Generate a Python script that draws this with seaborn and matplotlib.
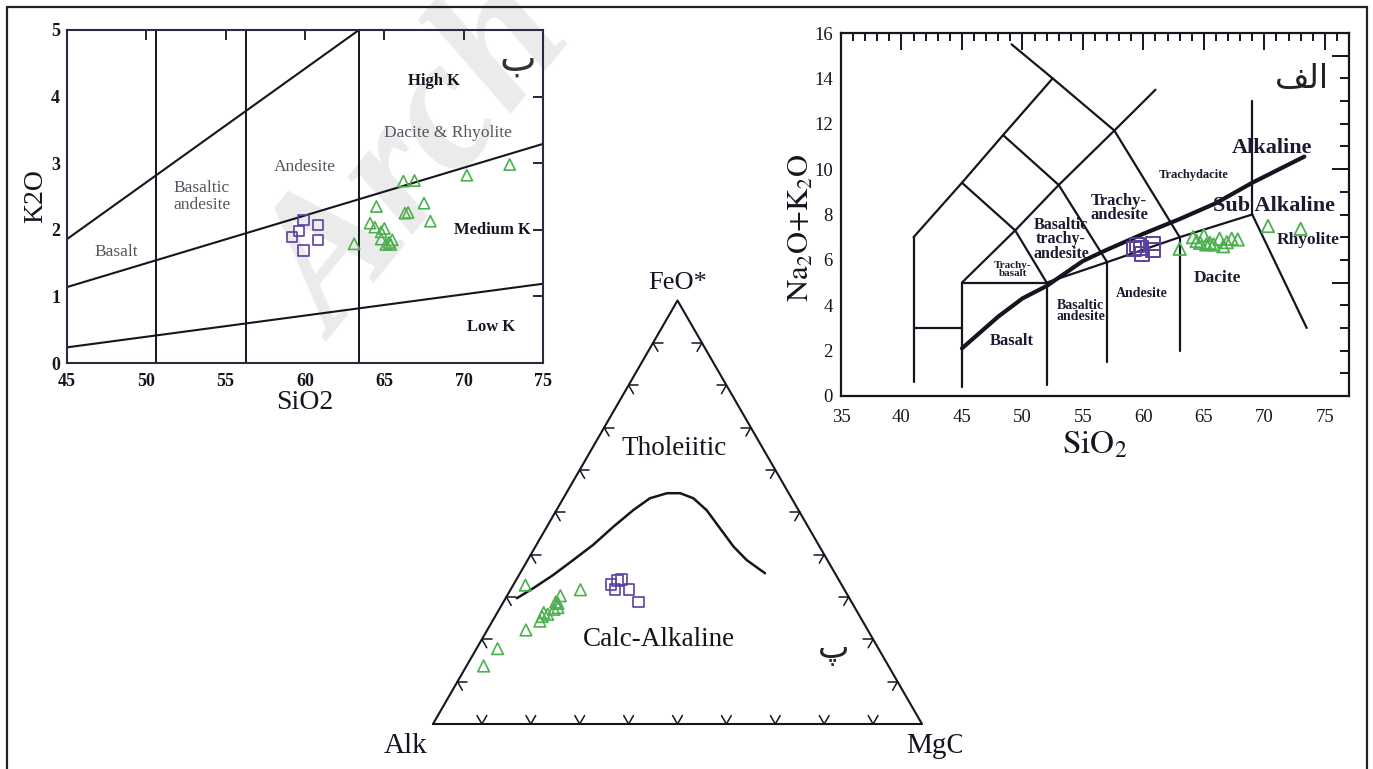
import numpy as np
import matplotlib
matplotlib.use('Agg')
import matplotlib.pyplot as plt
from matplotlib.lines import Line2D
from matplotlib.ticker import MultipleLocator, FixedLocator, FuncFormatter
import seaborn as sns

sns.set_theme(style='white')
plt.rcParams['font.family'] = ['Liberation Serif', 'DejaVu Sans']
plt.rcParams['mathtext.fontset'] = 'stix'

W, H = 1373, 769
SQ_COLOR = '#5b3f9f'
TRI_COLOR = '#4cb04f'
INK = '#151520'
ARABIC = ['DejaVu Sans']

# ---- panel "ب": K2O vs SiO2 ----
k2o_sq_sio2 = [59.2, 59.6, 59.9, 60.8, 60.8, 59.9]
k2o_sq_k2o = [1.89, 1.98, 2.15, 2.07, 1.85, 1.69]
k2o_tri_sio2 = [63.1, 64.5, 64.1, 64.4, 65.0, 64.8, 64.8, 65.1, 65.4, 65.5, 65.3,
                66.2, 66.9, 66.3, 66.5, 67.5, 67.9, 70.2, 72.9]
k2o_tri_k2o = [1.79, 2.35, 2.10, 2.04, 2.02, 1.97, 1.86, 1.78, 1.78, 1.85, 1.81,
               2.73, 2.74, 2.25, 2.26, 2.40, 2.13, 2.82, 2.98]
k2o_div_sio2 = [50.6, 56.3, 63.4]
k2o_bounds = {
    'shoshonite': ([45, 63.4], [1.86, 5.0]),
    'high': ([45, 75], [1.14, 3.29]),
    'low': ([45, 75], [0.235, 1.19]),
}

# ---- panel "الف": TAS ----
tas_sq_sio2 = [59.2, 59.8, 59.9, 60.8, 60.8, 59.5]
tas_sq_alk = [6.46, 6.53, 6.24, 6.72, 6.43, 6.64]
tas_tri_sio2 = [63.0, 64.1, 64.4, 64.7, 65.0, 65.2, 65.5, 65.8, 66.3, 66.6, 66.9,
                67.3, 67.8, 70.3, 73.0]
tas_tri_alk = [6.49, 7.00, 6.83, 6.75, 7.08, 6.68, 6.75, 6.68, 6.93, 6.60, 6.78,
               6.93, 6.90, 7.49, 7.37]
tas_fields = [
    ([41, 41], [0.6, 7.0]),
    ([41, 45], [3, 3]),
    ([45, 45], [0.4, 5]),
    ([45, 52], [5, 5]),
    ([52, 52], [0.5, 5]),
    ([57, 57], [1.5, 5.9]),
    ([63, 63], [2, 7]),
    ([52, 57, 63, 69], [5, 5.9, 7, 8]),
    ([69, 69], [8, 13]),
    ([69, 73.5], [8, 3]),
    ([41, 45, 48.4, 52.5], [7, 9.4, 11.5, 14]),
    ([49.1, 52.5, 57.6, 63], [15.5, 14, 11.7, 7]),
    ([45, 49.4, 52], [9.4, 7.3, 5]),
    ([48.4, 53, 57], [11.5, 9.3, 5.9]),
    ([45, 49.4, 53, 57.6, 61], [5, 7.3, 9.3, 11.7, 13.5]),
]
alk_curve_sio2 = [45, 48, 50, 52, 55, 57, 60, 63, 66, 69, 73.3]
alk_curve_alk = [2.1, 3.5, 4.3, 4.85, 5.95, 6.45, 7.15, 7.8, 8.5, 9.4, 10.55]

# ---- panel "پ": AFM (percent FeO*, MgO; Alk is the rest) ----
afm_curve_f = [29.7, 32.1, 35.2, 38.7, 42.3, 46.6, 50.5, 53.3, 54.5, 54.5, 53.3,
               50.5, 46.2, 41.9, 38.7, 35.6]
afm_curve_m = [2.3, 4.5, 7.0, 9.3, 11.6, 13.6, 15.7, 17.7, 20.6, 23.3, 26.6,
               30.7, 35.6, 40.5, 44.8, 50.1]
afm_tri_f = [32.8, 31.7, 30.3, 28.8, 27.5, 27.1, 26.3, 25.4, 24.3, 22.2, 17.8, 13.7, 28.5, 25.9]
afm_tri_m = [2.5, 14.3, 10.9, 10.7, 11.8, 11.2, 9.5, 9.6, 9.7, 7.9, 4.3, 3.5, 11.3, 10.5]
afm_sq_f = [33.0, 33.8, 34.2, 31.8, 31.8, 28.8]
afm_sq_m = [19.9, 20.9, 21.5, 21.3, 24.2, 27.7]


def px_axes(fig, left, top, right, bottom):
    return fig.add_axes([left / W, 1 - bottom / H, (right - left) / W, (bottom - top) / H])


def tern(f, m):
    f = np.asarray(f, dtype=float) / 100
    m = np.asarray(m, dtype=float) / 100
    return m + f / 2, f * np.sqrt(3) / 2


fig = plt.figure(figsize=(W / 100, H / 100), dpi=100)
fig.patch.set_facecolor('white')

# watermark behind everything (cut by the top edge, as in the source)
fig.text(336 / W, 1 - 342 / H, 'Arch', fontsize=135, color='#ebebeb',
         fontweight='bold', style='italic', rotation=51, rotation_mode='anchor',
         ha='left', va='baseline', zorder=-5)

# outer frame
for xs, ys in [([7, 1367], [7, 7]), ([7, 7], [7, 769]), ([1367, 1367], [7, 769])]:
    fig.add_artist(Line2D([x / W for x in xs], [1 - y / H for y in ys],
                          color='#222222', lw=1.6))

# ================= K2O vs SiO2 =================
ax1 = px_axes(fig, 67, 30, 543, 363)
ax1.patch.set_alpha(0)
ax1.set_xlim(45, 75)
ax1.set_ylim(0, 5)
for x in k2o_div_sio2:
    ax1.plot([x, x], [0, 5], color=INK, lw=1.4)
for xs, ys in k2o_bounds.values():
    ax1.plot(xs, ys, color=INK, lw=1.5)
sns.scatterplot(x=k2o_sq_sio2, y=k2o_sq_k2o, marker='s', s=55, color=SQ_COLOR,
                facecolor='none', edgecolor=SQ_COLOR, linewidth=1.2, ax=ax1, zorder=4)
sns.scatterplot(x=k2o_tri_sio2, y=k2o_tri_k2o, marker='^', s=65, color=TRI_COLOR,
                facecolor='none', edgecolor=TRI_COLOR, linewidth=1.2, ax=ax1, zorder=4)
grey = '#555560'
ax1.text(48.1, 1.67, 'Basalt', color=grey, fontsize=12.5, ha='center', va='center')
ax1.text(53.5, 2.5, 'Basaltic\nandesite', color=grey, fontsize=12.5, ha='center',
         va='center', linespacing=1.1)
ax1.text(60.0, 2.95, 'Andesite', color=grey, fontsize=12.5, ha='center', va='center')
ax1.text(69.0, 3.46, 'Dacite & Rhyolite', color=grey, fontsize=12.5, ha='center', va='center')
ax1.text(68.1, 4.24, 'High K', color=INK, fontsize=12, fontweight='bold', ha='center', va='center')
ax1.text(71.8, 1.99, 'Medium K', color=INK, fontsize=12, fontweight='bold', ha='center', va='center')
ax1.text(71.75, 0.54, 'Low K', color=INK, fontsize=12, fontweight='bold', ha='center', va='center')
ax1.text(73.4, 4.55, 'ب', family=ARABIC, fontsize=28, color='#333333', ha='center', va='center')
ax1.xaxis.set_major_locator(MultipleLocator(5))
ax1.yaxis.set_major_locator(MultipleLocator(1))
ax1.tick_params(direction='in', length=7, width=1.3, top=True, right=True,
                labelsize=13, colors=INK)
ax1.tick_params(axis='x', pad=7)
ax1.tick_params(axis='y', pad=5)
for lab in ax1.get_xticklabels() + ax1.get_yticklabels():
    lab.set_fontweight('bold')
for sp in ax1.spines.values():
    sp.set_color('#2b2b40')
    sp.set_linewidth(1.5)
ax1.set_xlabel('SiO2', fontsize=20, color=INK)
ax1.xaxis.set_label_coords(0.5, -0.08)
ax1.set_ylabel('K2O', fontsize=20, color=INK)
ax1.yaxis.set_label_coords(-0.04, 0.5)

# ================= TAS =================
ax2 = px_axes(fig, 841, 33, 1349, 396)
ax2.patch.set_alpha(0)
ax2.set_xlim(35, 77)
ax2.set_ylim(0, 16)
for xs, ys in tas_fields:
    ax2.plot(xs, ys, color=INK, lw=1.6)
ax2.plot(alk_curve_sio2, alk_curve_alk, color=INK, lw=3)
sns.scatterplot(x=tas_sq_sio2, y=tas_sq_alk, marker='s', s=100, color=SQ_COLOR,
                facecolor='none', edgecolor=SQ_COLOR, linewidth=1.4, ax=ax2, zorder=4)
sns.scatterplot(x=tas_tri_sio2, y=tas_tri_alk, marker='^', s=80, color=TRI_COLOR,
                facecolor='none', edgecolor=TRI_COLOR, linewidth=1.3, ax=ax2, zorder=4)
tas_txt = '#1c1c30'
tas_labels = [
    (70.6, 10.94, 'Alkaline', 16),
    (70.8, 8.37, 'Sub Alkaline', 16),
    (73.6, 6.87, 'Rhyolite', 12.5),
    (66.1, 5.21, 'Dacite', 12.5),
    (59.9, 4.52, 'Andesite', 10),
    (54.8, 3.74, 'Basaltic\nandesite', 10),
    (49.1, 2.42, 'Basalt', 12),
    (49.2, 5.58, 'Trachy-\nbasalt', 8),
    (53.2, 6.9, 'Basaltic\ntrachy-\nandesite', 11.5),
    (58.0, 8.3, 'Trachy-\nandesite', 12),
    (64.2, 9.76, 'Trachydacite', 9),
]
for x, y, t, fs in tas_labels:
    ax2.text(x, y, t, fontsize=fs, fontweight='bold', color=tas_txt, ha='center',
             va='center', linespacing=0.85)
# الف written in visual order with presentation forms
ax2.text(73.1, 14.0, '\ufed2\ufedf\ufe8d', family=ARABIC, fontsize=24, color='#222222',
         ha='center', va='center')
ax2.xaxis.set_major_locator(MultipleLocator(5))
ax2.xaxis.set_minor_locator(MultipleLocator(1))
# short ticks at every unit, labelled on even values; long ticks at 5, 10, 15
ax2.yaxis.set_major_locator(FixedLocator(range(0, 17)))
ax2.yaxis.set_major_formatter(FuncFormatter(lambda v, p: f'{v:.0f}' if v % 2 == 0 else ''))
ax2.yaxis.set_minor_locator(FixedLocator([5, 10, 15]))
ax2.yaxis.remove_overlapping_locs = False
ax2.tick_params(which='both', direction='in', top=True, right=True, width=1.4, colors=INK)
ax2.xaxis.set_tick_params(which='major', length=12, pad=9)
ax2.xaxis.set_tick_params(which='minor', length=6)
ax2.yaxis.set_tick_params(which='major', length=6.5, pad=6)
ax2.yaxis.set_tick_params(which='minor', length=12)
ax2.tick_params(which='major', labelsize=13.5)
for sp in ax2.spines.values():
    sp.set_color(INK)
    sp.set_linewidth(1.6)
ax2.set_xlabel(r'$\mathrm{SiO_2}$', fontsize=24, color=INK, labelpad=3)
ax2.set_ylabel(r'$\mathrm{Na_2O{+}K_2O}$', fontsize=22, color=INK)
ax2.yaxis.set_label_coords(-0.05, 0.463)

# ================= AFM ternary =================
ax3 = px_axes(fig, 380, 269, 962, 769)
ax3.patch.set_alpha(0)
ax3.set_xlim(-53 / 489, 529 / 489)
ax3.set_ylim(-45 / 489, 455 / 489)
ax3.axis('off')
h = np.sqrt(3) / 2
ax3.plot([0, 1, 0.5, 0], [0, 0, h, 0], color=INK, lw=1.5)
# ternary tick marks every 10 %
tl = 0.02
sides = [((0, 0), (1, 0), [(0.5, h), (-0.5, h)]),
         ((0, 0), (0.5, h), [(1, 0), (0.5, -h)]),
         ((1, 0), (0.5, h), [(-1, 0), (-0.5, -h)])]
for p0, p1, dirs in sides:
    for i in range(1, 10):
        t = i / 10
        px = p0[0] + t * (p1[0] - p0[0])
        py = p0[1] + t * (p1[1] - p0[1])
        for dx, dy in dirs:
            ax3.plot([px, px + tl * dx], [py, py + tl * dy], color=INK, lw=1.1)
cx, cy = tern(afm_curve_f, afm_curve_m)
ax3.plot(cx, cy, color=INK, lw=1.8, solid_joinstyle='round')
tx, ty = tern(afm_tri_f, afm_tri_m)
sns.scatterplot(x=tx, y=ty, marker='^', s=70, color=TRI_COLOR, facecolor='none',
                edgecolor=TRI_COLOR, linewidth=1.2, ax=ax3, zorder=4)
qx, qy = tern(afm_sq_f, afm_sq_m)
sns.scatterplot(x=qx, y=qy, marker='s', s=60, color=SQ_COLOR, facecolor='none',
                edgecolor=SQ_COLOR, linewidth=1.2, ax=ax3, zorder=4)
ax3.text(0.5, h + 0.035, 'FeO*', fontsize=19, color=INK, ha='center', va='center')
ax3.text(-0.057, -0.045, 'Alk', fontsize=21, color=INK, ha='center', va='center')
ax3.text(1.03, -0.045, 'MgO', fontsize=21, color=INK, ha='center', va='center', clip_on=True)
ax3.text((674.5 - 433) / 489, (724 - 448) / 489, 'Tholeiitic', fontsize=19.5, color=INK,
         ha='center', va='center')
ax3.text((658.7 - 433) / 489, (724 - 640) / 489, 'Calc-Alkaline', fontsize=19.5, color=INK,
         ha='center', va='center')
ax3.text((834 - 433) / 489, (724 - 649) / 489, 'پ', family=ARABIC, fontsize=24,
         color='#222222', ha='center', va='center')

fig.savefig('out.png', dpi=100, facecolor='white')
